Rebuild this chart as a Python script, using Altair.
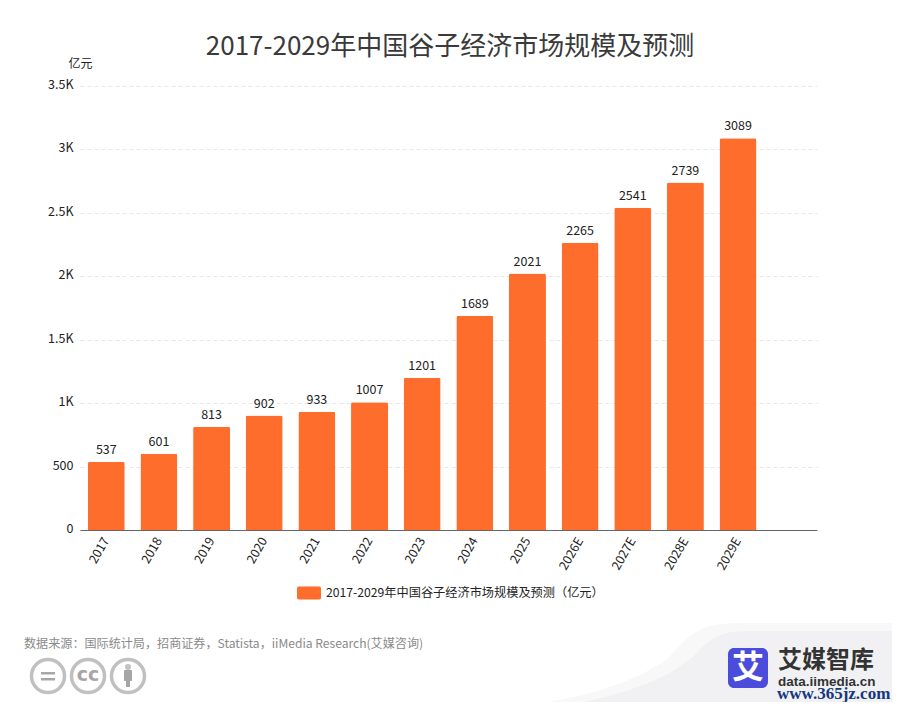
import altair as alt
import pandas as pd

FONT = "Noto Sans CJK SC"
categories = ["2017","2018","2019","2020","2021","2022","2023","2024","2025","2026E","2027E","2028E","2029E"]
values = [537,601,813,902,933,1007,1201,1689,2021,2265,2541,2739,3089]
domain = categories + [" "]
series = "2017-2029年中国谷子经济市场规模及预测（亿元）"
ORANGE = "#ff6d2d"
GRAY = "#a6a6a6"

OX, OY = 80, 86
df = pd.DataFrame({"cat": categories, "val": values, "s": [series]*len(values)})

# decorative background swooshes, as SVG paths in symbol units around (700, 666)
SWOOSH_OUTER = "M-1.2,0.22 C-0.7,0.2 -0.4,0.12 -0.17,-0.03 C-0.08,-0.11 -0.05,-0.21 0.17,-0.215 L1.1,-0.215 L1.1,0.3 L-1.2,0.3 Z"
SWOOSH_INNER = "M-0.8,0.22 C-0.45,0.16 -0.2,0.1 -0.02,-0.06 C0.05,-0.14 0.1,-0.175 0.25,-0.175 L1.1,-0.175 L1.1,0.3 L-0.8,0.3 Z"
ROUND_RECT = "M-0.85,-0.54H0.85Q1,-0.54 1,-0.39V0.39Q1,0.54 0.85,0.54H-0.85Q-1,0.54 -1,0.39V-0.39Q-1,-0.54 -0.85,-0.54Z"

base = alt.Chart(df)
bars = base.mark_bar(size=37, cornerRadiusTopLeft=2, cornerRadiusTopRight=2).encode(
    x=alt.X("cat:N", sort=domain, scale=alt.Scale(domain=domain, paddingInner=0.315, paddingOuter=0.157),
            axis=alt.Axis(title=None, labelAngle=-60, labelFont=FONT, labelFontSize=12.5, labelColor="#222",
                          labelPadding=8, ticks=False, domainColor="#666", domainWidth=1, grid=False,
                          labelOverlap=False, labelAlign="right", labelBaseline="middle")),
    y=alt.Y("val:Q", scale=alt.Scale(domain=[0,3500], nice=False),
            axis=alt.Axis(title="亿元", titleAngle=0, titleX=0, titleY=-16, titleFont=FONT, titleFontSize=12,
                          titleFontWeight="normal", titleColor="#222", values=[0,500,1000,1500,2000,2500,3000,3500],
                          labelExpr="datum.value>=1000 ? datum.value/1000+'K' : datum.value",
                          labelFont=FONT, labelFontSize=12.5, labelColor="#222", labelPadding=7, labelOffset=-1.5, ticks=False,
                          domain=False, grid=True, gridColor="#e8e8e8", gridDash=[4,3], gridWidth=1)),
    color=alt.Color("s:N", scale=alt.Scale(range=[ORANGE]),
                    legend=alt.Legend(title=None, orient="none", legendX=217, legendY=495,
                                      symbolType=ROUND_RECT, symbolSize=576, symbolStrokeWidth=0,
                                      labelFont=FONT, labelFontSize=12.2, labelColor="#222", labelLimit=400, labelOffset=5)),
)
labels = base.mark_text(dy=-12, font=FONT, fontSize=12.5, color="#222").encode(
    x=alt.X("cat:N", sort=domain), y="val:Q", text="val:Q")

def txt(s, x, y, size=12, color="#222", weight="normal", font=FONT, align="left"):
    return alt.Chart(pd.DataFrame({"t":[s]})).mark_text(
        text=s, font=font, fontSize=size, color=color, fontWeight=weight, align=align, baseline="middle"
    ).encode(x=alt.value(x-OX), y=alt.value(y-OY))

def dot(x, y, d, **kw):
    return alt.Chart(pd.DataFrame({"t":[0]})).mark_point(shape="circle", size=d*d, **kw).encode(
        x=alt.value(x-OX), y=alt.value(y-OY))

def box(x0, y0, x1, y1, color, r=0):
    return alt.Chart(pd.DataFrame({"t":[0]})).mark_rect(color=color, cornerRadius=r).encode(
        x=alt.value(x0-OX), x2=alt.value(x1-OX), y=alt.value(y0-OY), y2=alt.value(y1-OY))

def path(shape, color):
    return alt.Chart(pd.DataFrame({"t":[0]})).mark_point(
        shape=shape, size=400*400, filled=True, color=color, strokeWidth=0, opacity=1
    ).encode(x=alt.value(700-OX), y=alt.value(666-OY))

back = [path(SWOOSH_OUTER, "#f8f8f9"), path(SWOOSH_INNER, "#f1f1f3")]

decor = [
    txt("2017-2029年中国谷子经济市场规模及预测", 450, 47, 26, "#3a3a3a", align="center"),
    txt("数据来源：国际统计局，招商证券，Statista，iiMedia Research(艾媒咨询)", 24, 644, 12.1, "#8a8a8a"),
]
for cx in (48, 88, 128):
    decor.append(dot(cx, 676, 33, filled=False, stroke=GRAY, strokeWidth=3.5))
decor += [
    box(41, 672, 55, 674.5, GRAY), box(41, 678, 55, 680.5, GRAY),
    txt("cc", 88, 675, 19, GRAY, "bold", "DejaVu Sans", "center"),
    dot(128, 667, 6, filled=True, color=GRAY), box(124, 670, 132, 681, GRAY, 1), box(126, 681, 130, 687, GRAY),
    box(728, 648, 768, 688, "#4c4cdc", 6),
    txt("艾", 748, 668, 32, "#ffffff", "bold", align="center"),
    txt("艾媒智库", 778, 661, 24, "#333333", "bold"),
    txt("data.iimedia.cn", 778, 682, 13.5, "#333333", "bold", "Liberation Sans"),
    txt("www.365jz.com", 777, 694, 17, "#14387f", "bold", "Liberation Serif"),
]

chart = alt.layer(*back, bars, labels, *decor).properties(
    width=737, height=444,
    autosize=alt.AutoSizeParams(type="none"),
    padding={"left":72,"top":78,"right":75,"bottom":172},
).configure_view(stroke=None)
chart.save("out.html", embed_options={"renderer": "svg", "actions": False})
